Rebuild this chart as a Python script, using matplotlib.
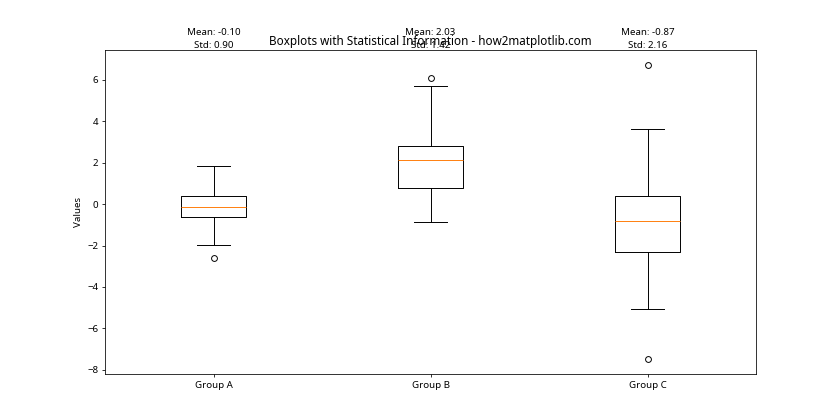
import matplotlib
matplotlib.use("Agg")
import matplotlib.pyplot as plt

plt.rcParams['font.family'] = ['Noto Sans', 'DejaVu Sans']

groups = ['Group A', 'Group B', 'Group C']
medians = [-0.15, 2.14, -0.82]
q1 = [-0.61, 0.79, -2.30]
q3 = [0.39, 2.80, 0.40]
whislo = [-1.98, -0.87, -5.06]
whishi = [1.85, 5.70, 3.62]
fliers = [[-2.61], [6.08], [6.71, -7.48]]
means = [-0.10, 2.03, -0.87]
stds = [0.90, 1.42, 2.16]

stats = []
for i in range(len(groups)):
    stats.append({'label': groups[i], 'med': medians[i], 'q1': q1[i], 'q3': q3[i],
                  'whislo': whislo[i], 'whishi': whishi[i], 'fliers': fliers[i]})

fig, ax = plt.subplots(figsize=(12, 6), dpi=70)
ax.bxp(stats)

ymax = ax.get_ylim()[1]
for i in range(len(groups)):
    ax.text(i + 1, ymax, f'Mean: {means[i]:.2f}\nStd: {stds[i]:.2f}',
            ha='center', va='bottom', linespacing=1.6)

ax.set_title('Boxplots with Statistical Information - how2matplotlib.com')
ax.set_ylabel('Values')
fig.savefig('out.png')
